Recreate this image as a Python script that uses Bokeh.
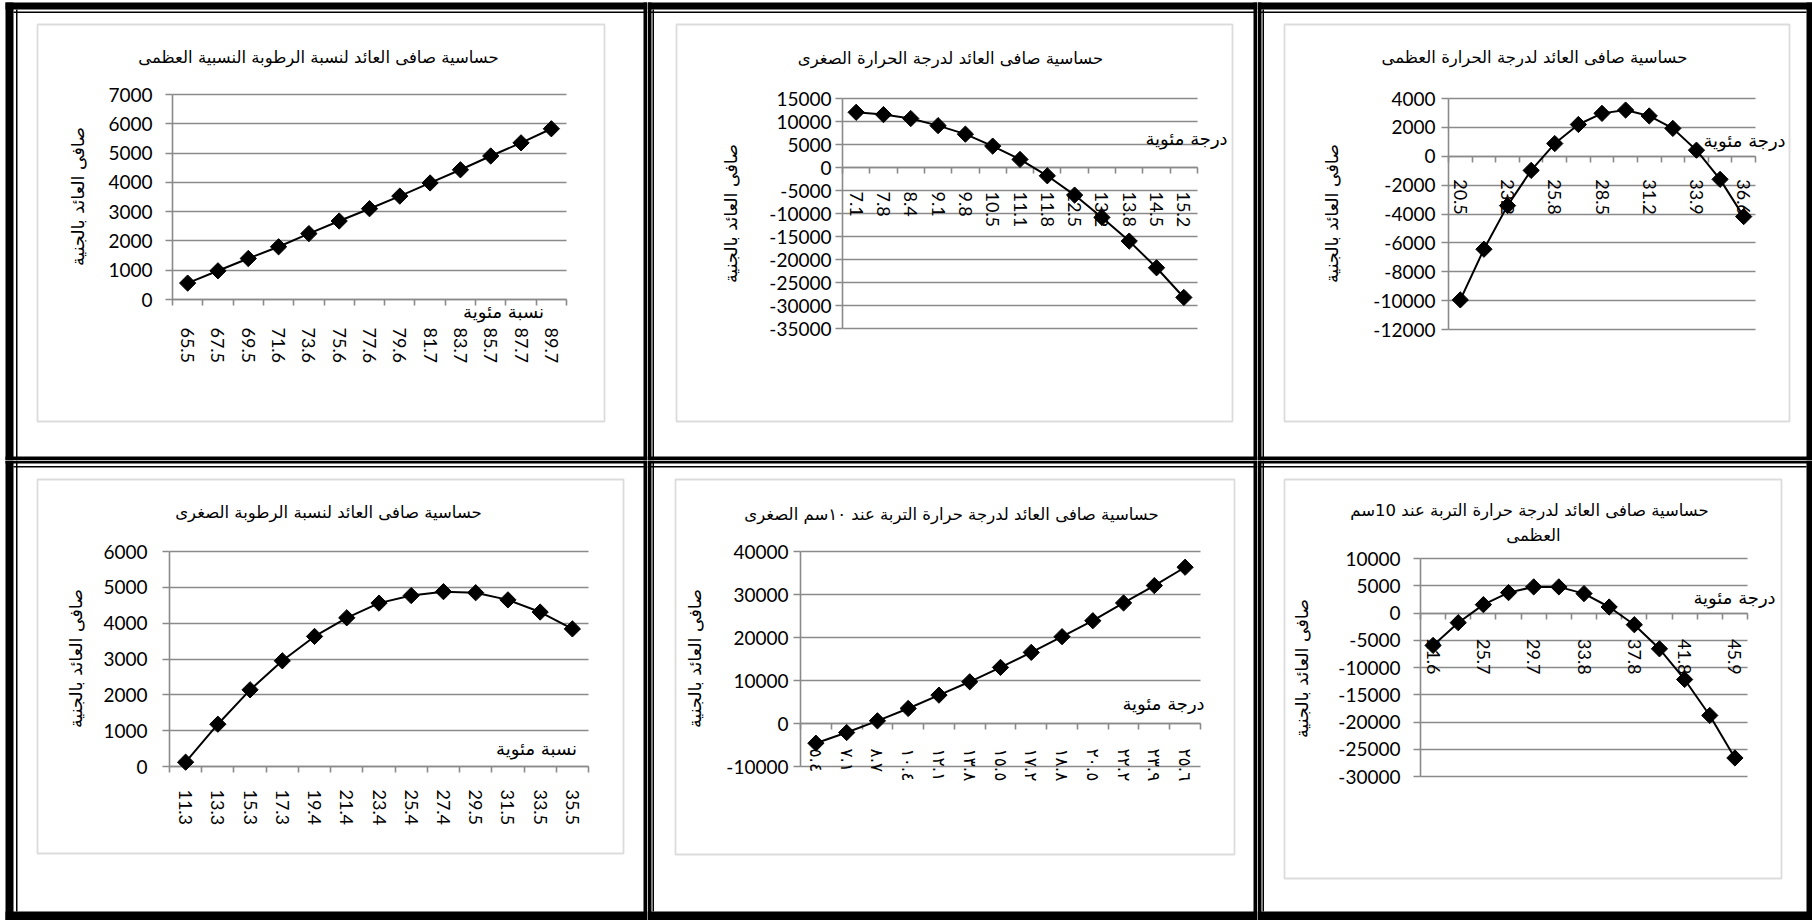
import numpy as np
from bokeh.plotting import figure
from bokeh.models import (Range1d, LinearAxis, FixedTicker, BoxAnnotation, Label, Grid,
                          ColumnDataSource, CustomJSTickFormatter)
from bokeh.layouts import row, column
from bokeh.embed import file_html
from bokeh.resources import INLINE

# ---------------- data ----------------
title_rh_max = "حساسية صافى العائد لنسبة الرطوبة النسبية العظمى"
title_tmin = "حساسية صافى العائد لدرجة الحرارة الصغرى"
title_tmax = "حساسية صافى العائد لدرجة الحرارة العظمى"
title_rh_min = "حساسية صافى العائد لنسبة الرطوبة الصغرى"
title_soil_min = "حساسية صافى العائد لدرجة حرارة التربة عند ١٠سم الصغرى"
title_soil_max_1 = "حساسية صافى العائد لدرجة حرارة التربة عند 10سم"
title_soil_max_2 = "العظمى"
y_title = "صافى العائد بالجنية"
x_title_pct = "نسبة مئوية"
x_title_deg = "درجة مئوية"

rh_max_x = ["65.5", "67.5", "69.5", "71.6", "73.6", "75.6", "77.6", "79.6", "81.7", "83.7", "85.7", "87.7", "89.7"]
rh_max_y = [560, 980, 1400, 1800, 2250, 2680, 3100, 3530, 3980, 4430, 4900, 5350, 5830]
rh_max_ticks = [0, 1000, 2000, 3000, 4000, 5000, 6000, 7000]

tmin_x = ["7.1", "7.8", "8.4", "9.1", "9.8", "10.5", "11.1", "11.8", "12.5", "13.2", "13.8", "14.5", "15.2"]
tmin_y = [12000, 11500, 10650, 9100, 7250, 4650, 1750, -1800, -6000, -10850, -16000, -21800, -28250]
tmin_ticks = [-35000, -30000, -25000, -20000, -15000, -10000, -5000, 0, 5000, 10000, 15000]

tmax_x = ["20.5", "21.9", "23.2", "24.5", "25.8", "27.2", "28.5", "29.8", "31.2", "32.5", "33.9", "35.2", "36.6"]
tmax_y = [-9950, -6440, -3420, -980, 880, 2200, 2970, 3200, 2790, 1930, 420, -1600, -4180]
tmax_ticks = [-12000, -10000, -8000, -6000, -4000, -2000, 0, 2000, 4000]

rh_min_x = ["11.3", "13.3", "15.3", "17.3", "19.4", "21.4", "23.4", "25.4", "27.4", "29.5", "31.5", "33.5", "35.5"]
rh_min_y = [120, 1180, 2140, 2950, 3630, 4150, 4560, 4770, 4880, 4850, 4650, 4310, 3840]
rh_min_ticks = [0, 1000, 2000, 3000, 4000, 5000, 6000]

soil_min_x = ["٥.٤", "٧.١", "٨.٧", "١٠.٤", "١٢.١", "١٣.٨", "١٥.٥", "١٧.٢", "١٨.٨", "٢٠.٥", "٢٢.٢", "٢٣.٩", "٢٥.٦"]
soil_min_y = [-4580, -2100, 620, 3490, 6600, 9700, 13040, 16540, 20190, 23900, 28030, 32070, 36340]
soil_min_ticks = [-10000, 0, 10000, 20000, 30000, 40000]

soil_max_x = ["21.6", "23.6", "25.7", "27.7", "29.7", "31.8", "33.8", "35.8", "37.8", "39.8", "41.8", "43.9", "45.9"]
soil_max_y = [-5950, -1780, 1530, 3740, 4790, 4790, 3560, 1100, -2150, -6570, -12200, -18800, -26600]
soil_max_ticks = [-30000, -25000, -20000, -15000, -10000, -5000, 0, 5000, 10000]

# ---------------- layout / style ----------------
GRAY = "#8a8a8a"
AR = "DejaVu Sans"
NUM = "Lato"
TITLE_SIZE = "16.5px"
YTITLE_SIZE = "17.5px"
XTITLE_SIZE = "18px"
COL_EDGES = [0, 647, 1257, 1812]
ROW_EDGES = [0, 460, 920]

BANDS = [  # page coords x0, x1, y0, y1
    (5, 1812, 2, 9), (5, 13, 2, 920), (643, 651, 2, 920), (1253, 1261, 2, 920),
    (5, 1812, 456, 463), (5, 1812, 911, 920), (1806, 1812, 2, 920),
]
THIN = [
    (13, 1806, 11, 12.5), (13, 1806, 465.5, 467),
    (15.5, 17, 9, 911), (652, 653.5, 9, 911), (1262, 1263.5, 9, 911),
]

panels = [
    dict(cell=(0, 0), labels=rh_max_x, values=rh_max_y, yticks=rh_max_ticks,
         frame=(172, 566, 94, 299), box=(37, 604, 24, 421),
         titles=[(title_rh_max, 318, 57)], ytitle=(77, 196), xtitle=(x_title_pct, 503, 311),
         step=1, lfont=NUM, lsize="18px", lstand=28, ystand=13),
    dict(cell=(1, 0), labels=tmin_x, values=tmin_y, yticks=tmin_ticks,
         frame=(842, 1197, 98, 328), box=(676, 1232, 24, 421),
         titles=[(title_tmin, 950, 58)], ytitle=(730, 213), xtitle=(x_title_deg, 1186, 138),
         step=1, lfont=NUM, lsize="18px", lstand=24, ystand=4),
    dict(cell=(2, 0), labels=tmax_x, values=tmax_y, yticks=tmax_ticks,
         frame=(1448, 1755, 98, 329), box=(1284, 1789, 24, 421),
         titles=[(title_tmax, 1534, 57)], ytitle=(1331, 213), xtitle=(x_title_deg, 1744, 140),
         step=2, lfont=NUM, lsize="18px", lstand=23, ystand=6),
    dict(cell=(0, 1), labels=rh_min_x, values=rh_min_y, yticks=rh_min_ticks,
         frame=(169, 588, 551, 766), box=(37, 623, 479, 853),
         titles=[(title_rh_min, 328, 512)], ytitle=(75, 658), xtitle=(x_title_pct, 536, 748),
         step=1, lfont=NUM, lsize="18px", lstand=23, ystand=15),
    dict(cell=(1, 1), labels=soil_min_x, values=soil_min_y, yticks=soil_min_ticks,
         frame=(800, 1200, 551, 766), box=(675, 1234, 479, 854),
         titles=[(title_soil_min, 951, 514)], ytitle=(694, 658), xtitle=(x_title_deg, 1163, 703),
         step=1, lfont=AR, lsize="17px", lstand=25, ystand=5),
    dict(cell=(2, 1), labels=soil_max_x, values=soil_max_y, yticks=soil_max_ticks,
         frame=(1420, 1747, 558, 776), box=(1284, 1781, 479, 878),
         titles=[(title_soil_max_1, 1529, 510), (title_soil_max_2, 1533, 535)],
         ytitle=(1301, 668), xtitle=(x_title_deg, 1734, 597),
         step=2, lfont=NUM, lsize="18px", lstand=26, ystand=13),
]

HAS_CROSS = "cross_bounds" in Grid.properties()


def cbox(p, X0, Y0, x0, x1, y0, y1, **kw):
    p.add_layout(BoxAnnotation(left=x0 - X0, right=x1 - X0, top=y0 - Y0, bottom=y1 - Y0,
                               left_units="canvas", right_units="canvas",
                               top_units="canvas", bottom_units="canvas", **kw))


def clab(p, X0, Y0, text, x, y, size, angle=0.0):
    p.add_layout(Label(x=x - X0, y=y - Y0, x_units="canvas", y_units="canvas", text=text,
                       text_font=AR, text_font_size=size, text_color="black",
                       text_align="center", text_baseline="middle", angle=angle))


def build(spec):
    c, r = spec["cell"]
    X0, X1 = COL_EDGES[c], COL_EDGES[c + 1]
    Y0, Y1 = ROW_EDGES[r], ROW_EDGES[r + 1]
    W, H = X1 - X0, Y1 - Y0
    pl, pr, pt, pb = spec["frame"]
    labels = spec["labels"]
    n = len(labels)
    yt = spec["yticks"]
    ymin, ymax = yt[0], yt[-1]
    # ranges chosen so that the category band [-0.5, n-0.5] and [ymin, ymax]
    # fall on the plot area inside the whole-cell frame
    ux = n / (pr - pl)
    xs = -0.5 - (pl - X0) * ux
    xe = -0.5 + (X1 - pl) * ux
    uy = (ymax - ymin) / (pb - pt)
    ys = ymin - (Y1 - pb) * uy
    ye = ymax + (pt - Y0) * uy

    p = figure(width=W, height=H, output_backend="svg", toolbar_location=None, tools="",
               x_range=Range1d(xs, xe), y_range=Range1d(ys, ye),
               x_axis_location=None, y_axis_location=None,
               min_border_left=0, min_border_right=0, min_border_top=0, min_border_bottom=0)
    p.outline_line_color = None
    p.background_fill_color = "white"
    p.border_fill_color = "white"
    for g in p.grid:
        g.visible = False

    tk = FixedTicker(ticks=yt)
    gr = Grid(dimension=1, ticker=tk, grid_line_color=GRAY, grid_line_width=1.6)
    if HAS_CROSS:
        gr.cross_bounds = (-0.5, n - 0.5)
        p.add_layout(gr)
    else:
        p.segment(x0=-0.5, x1=n - 0.5, y0=yt, y1=yt, line_color=GRAY, line_width=1.6)

    ya = LinearAxis(ticker=tk, fixed_location=-0.5, bounds=(ymin, ymax),
                    formatter=CustomJSTickFormatter(code="return tick.toFixed(0)"),
                    axis_line_color=GRAY, axis_line_width=1.6,
                    major_tick_line_color=GRAY, major_tick_line_width=1.6,
                    major_tick_in=0, major_tick_out=7, minor_tick_line_color=None,
                    major_label_text_font=NUM, major_label_text_font_size="19px",
                    major_label_text_color="black", major_label_standoff=spec["ystand"])
    p.add_layout(ya, "left")

    xt = LinearAxis(ticker=FixedTicker(ticks=[i - 0.5 for i in range(n + 1)]), fixed_location=0,
                    bounds=(-0.5, n - 0.5),
                    formatter=CustomJSTickFormatter(code="return ''"),
                    axis_line_color=GRAY, axis_line_width=1.6,
                    major_tick_line_color=GRAY, major_tick_line_width=1.6,
                    major_tick_in=0, major_tick_out=6, minor_tick_line_color=None,
                    major_label_text_font_size="1px")
    p.add_layout(xt, "below")
    shown = list(range(0, n, spec["step"]))
    xl = LinearAxis(ticker=FixedTicker(ticks=shown), fixed_location=0, bounds=(-0.5, n - 0.5),
                    major_label_overrides={i: labels[i] for i in shown},
                    axis_line_color=None, major_tick_line_color=None, minor_tick_line_color=None,
                    major_tick_in=0, major_tick_out=0,
                    major_label_standoff=spec["lstand"], major_label_orientation="vertical",
                    major_label_text_font=spec["lfont"], major_label_text_font_size=spec["lsize"],
                    major_label_text_color="black")
    p.add_layout(xl, "below")

    src = ColumnDataSource(dict(x=list(range(n)), y=spec["values"]))
    p.line("x", "y", source=src, line_color="black", line_width=2, level="overlay")
    p.scatter("x", "y", source=src, marker="square", size=11.5, angle=np.pi / 4,
              fill_color="black", line_color="black", level="overlay")

    bx0, bx1, by0, by1 = spec["box"]
    cbox(p, X0, Y0, bx0, bx1, by0, by1, fill_color=None, fill_alpha=0,
         line_color=GRAY, line_width=1.8)
    for (a0, a1, b0, b1) in THIN + BANDS:
        x0, x1 = max(a0, X0), min(a1, X1)
        y0, y1 = max(b0, Y0), min(b1, Y1)
        if x1 > x0 and y1 > y0:
            cbox(p, X0, Y0, x0, x1, y0, y1, fill_color="black", fill_alpha=1,
                 line_color=None)

    for (t, tx, ty) in spec["titles"]:
        clab(p, X0, Y0, t, tx, ty, TITLE_SIZE)
    clab(p, X0, Y0, y_title, spec["ytitle"][0], spec["ytitle"][1], YTITLE_SIZE, angle=np.pi / 2)
    xt_text, xx, xy = spec["xtitle"]
    clab(p, X0, Y0, xt_text, xx, xy, XTITLE_SIZE)
    return p


figs = [build(s) for s in panels]
layout = column(row(figs[0], figs[1], figs[2]), row(figs[3], figs[4], figs[5]))
open("out.html", "w").write(file_html(layout, INLINE))
